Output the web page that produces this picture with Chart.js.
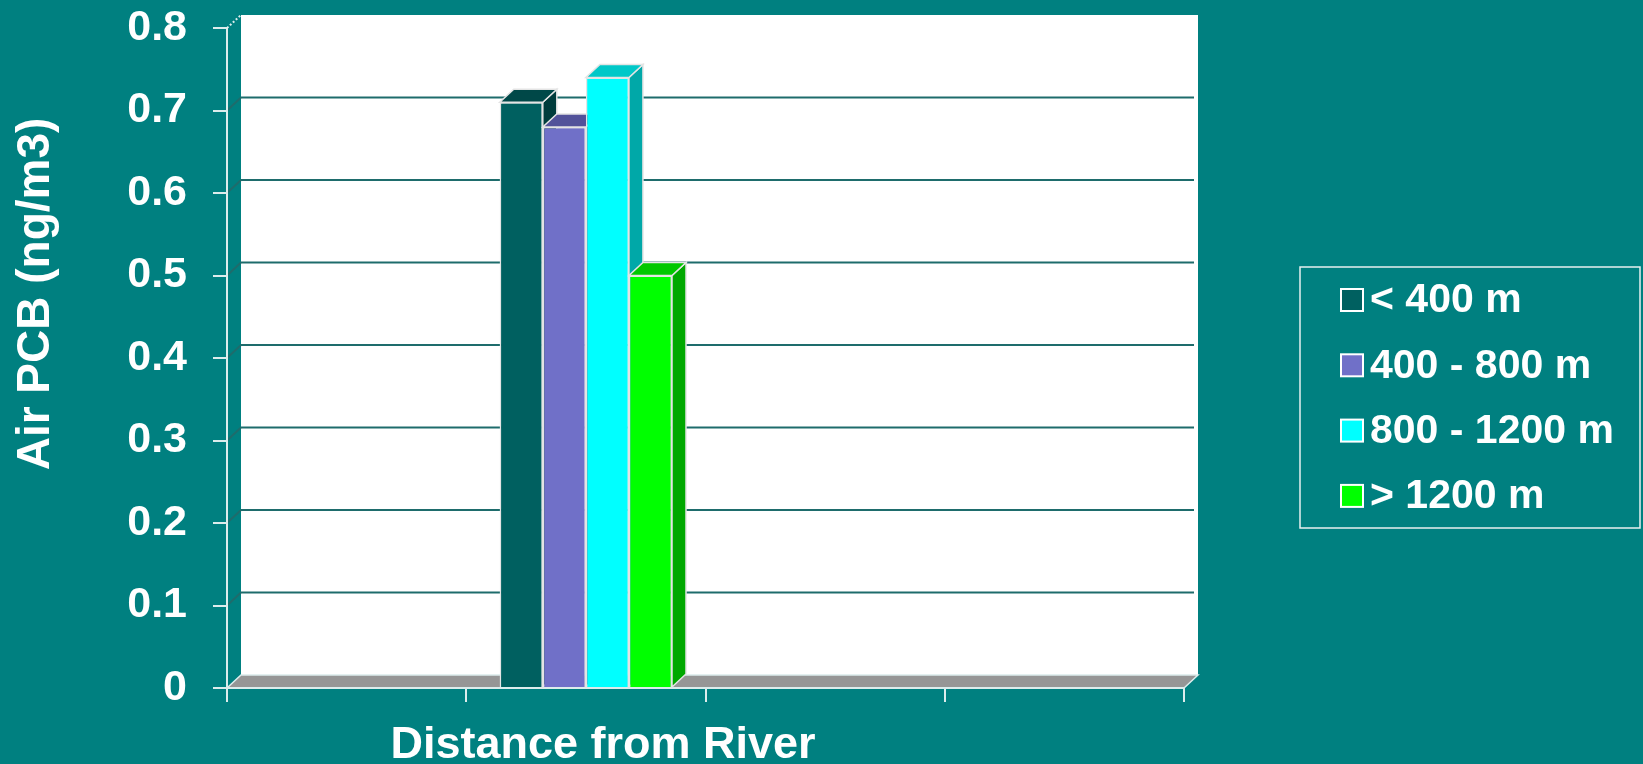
<!DOCTYPE html>
<html>
<head>
<meta charset="utf-8">
<title>Air PCB and distance from river</title>
<script src="https://cdn.jsdelivr.net/npm/chart.js@4"></script>
<style>
  html, body { margin: 0; padding: 0; background: #008080; overflow: hidden; }
  #wrap { position: relative; width: 1643px; height: 764px; }
</style>
</head>
<body>
<div id="wrap"><canvas id="pcbChart" width="1643" height="764"></canvas></div>
<script>
// Air PCB (ng/m3) by distance band from the river
const categories = ['', '', '', ''];
const dataCategory = 1;
const bandLabels = ['< 400 m', '400 - 800 m', '800 - 1200 m', '> 1200 m'];
const bandValues = [0.71, 0.68, 0.74, 0.50];
const yTitle = 'Air PCB (ng/m3)';
const xTitle = 'Distance from River';

// face shades per band: front, top, side
const frontColors = ['#006060', '#7070c8', '#00ffff', '#00ff00'];
const topColors = ['#004848', '#52529a', '#00c8c8', '#00c800'];
const sideColors = ['#003c3c', '#45458a', '#00a8a8', '#00a800'];

const FONT = "'Liberation Sans', Arial, sans-serif";
const LIGHT = '#dcecec';
const GRID = '#1e6c6c';
// depth offset of the back wall
const DX = 14;
const DY = -13;

function poly(ctx, pts, fill, stroke) {
  ctx.beginPath();
  ctx.moveTo(pts[0][0], pts[0][1]);
  for (let i = 1; i < pts.length; i++) ctx.lineTo(pts[i][0], pts[i][1]);
  ctx.closePath();
  ctx.fillStyle = fill;
  ctx.fill();
  if (stroke) {
    ctx.strokeStyle = stroke;
    ctx.lineWidth = 1.5;
    ctx.stroke();
  }
}

// back wall, floor and gridlines behind the bars
const walls = {
  id: 'walls',
  beforeDraw(chart) {
    const { ctx, chartArea: a, scales: { y } } = chart;
    ctx.save();
    ctx.fillStyle = '#ffffff';
    ctx.fillRect(a.left + DX, a.top + DY, a.right - a.left, a.bottom - a.top);

    ctx.lineWidth = 2;
    y.ticks.forEach(t => {
      if (t.value <= y.min || t.value >= y.max) return;
      const py = y.getPixelForValue(t.value);
      ctx.strokeStyle = GRID;
      ctx.beginPath();
      ctx.moveTo(a.left, py);
      ctx.lineTo(a.left + DX, py + DY);
      ctx.lineTo(a.right + DX - 4, py + DY);
      ctx.stroke();
    });

    // top edge of the side wall
    ctx.setLineDash([2, 2]);
    ctx.strokeStyle = LIGHT;
    ctx.beginPath();
    ctx.moveTo(a.left, a.top);
    ctx.lineTo(a.left + DX, a.top + DY);
    ctx.stroke();
    ctx.setLineDash([]);

    const b = a.bottom;
    poly(ctx, [[a.left, b], [a.right, b], [a.right + DX, b + DY], [a.left + DX, b + DY]], '#969696', LIGHT);
    ctx.restore();
  },
  // redraw bars left to right with top and side faces
  afterDatasetsDraw(chart) {
    const { ctx } = chart;
    ctx.save();
    chart.data.datasets.forEach((ds, i) => {
      const meta = chart.getDatasetMeta(i);
      meta.data.forEach((el, j) => {
        if (ds.data[j] == null) return;
        const { x, y, base, width } = el.getProps(['x', 'y', 'base', 'width'], true);
        const l = x - width / 2, r = x + width / 2;
        poly(ctx, [[r, y], [r + DX, y + DY], [r + DX, base + DY], [r, base]], sideColors[i], '#e4e4e4');
        poly(ctx, [[l, y], [r, y], [r + DX, y + DY], [l + DX, y + DY]], topColors[i], '#e4e4e4');
        el.draw(ctx, chart.chartArea);
      });
    });
    ctx.restore();
  },
  afterDraw(chart) {
    const { ctx } = chart;
    ctx.save();
    ctx.fillStyle = '#ffffff';

    // axis titles
    ctx.font = 'bold 46px ' + FONT;
    ctx.textAlign = 'center';
    ctx.textBaseline = 'middle';
    ctx.save();
    ctx.translate(36, 294);
    ctx.rotate(-Math.PI / 2);
    ctx.fillText(yTitle, 0, 0);
    ctx.restore();
    ctx.font = 'bold 45px ' + FONT;
    ctx.textBaseline = 'alphabetic';
    ctx.fillText(xTitle, 603, 758);

    // legend
    ctx.strokeStyle = '#e8f0f0';
    ctx.lineWidth = 1.5;
    ctx.strokeRect(1300, 267, 340, 261);
    ctx.font = 'bold 41px ' + FONT;
    ctx.textAlign = 'left';
    ctx.textBaseline = 'middle';
    chart.data.datasets.forEach((ds, i) => {
      const cy = 300 + i * 65.3;
      ctx.fillStyle = ds.backgroundColor;
      ctx.fillRect(1341, cy - 11, 22, 22);
      ctx.strokeStyle = '#ffffff';
      ctx.lineWidth = 2;
      ctx.strokeRect(1341, cy - 11, 22, 22);
      ctx.fillStyle = '#ffffff';
      ctx.fillText(ds.label, 1370, cy + 1);
    });
    ctx.restore();
  }
};

new Chart(document.getElementById('pcbChart'), {
  type: 'bar',
  data: {
    labels: categories,
    datasets: bandLabels.map((label, i) => ({
      label,
      data: categories.map((_, c) => (c === dataCategory ? bandValues[i] : null)),
      backgroundColor: frontColors[i],
      borderColor: '#e4e4e4',
      borderWidth: 1.5,
      categoryPercentage: 0.72,
      barPercentage: 1
    }))
  },
  options: {
    responsive: false,
    animation: false,
    layout: { padding: { top: 28, right: 459, bottom: 0, left: 0 } },
    plugins: {
      legend: { display: false },
      tooltip: { enabled: false }
    },
    scales: {
      x: {
        grid: { offset: true, drawOnChartArea: false, tickLength: 14, color: LIGHT, lineWidth: 2 },
        border: { color: LIGHT, width: 2 },
        ticks: { color: '#ffffff' },
        afterFit: s => { s.height = 76; }
      },
      y: {
        min: 0,
        max: 0.8,
        ticks: {
          stepSize: 0.1,
          color: '#ffffff',
          padding: 26,
          font: { family: FONT, size: 43, weight: 'bold' },
          callback: v => String(Math.round(v * 10) / 10)
        },
        grid: { drawOnChartArea: false, tickLength: 14, color: LIGHT, lineWidth: 2 },
        border: { color: LIGHT, width: 2 },
        // fixed gutter; the labels may overhang the plot edges
        afterFit: s => {
          s.width = 227;
          s.paddingTop = 0;
          s.paddingBottom = 0;
        }
      }
    }
  },
  plugins: [walls]
});
</script>
</body>
</html>
